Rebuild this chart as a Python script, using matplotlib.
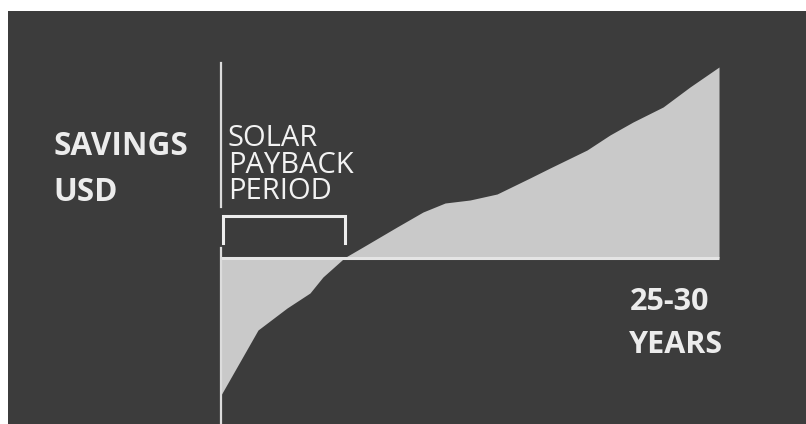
import matplotlib.pyplot as plt
import numpy as np

# savings curve (years, relative savings)
years = [0, 2.23, 3.98, 5.36, 6.14, 7.29, 7.41, 8.55, 10.6, 12.17, 13.5, 15.0,
         16.63, 18.61, 19.82, 22.05, 23.43, 24.82, 26.63, 28.25, 30.0]
savings = [-137, -72, -50, -35, -19, -2, 0, 11, 31, 46, 55, 58,
           64, 80, 90, 108, 123, 136, 151, 171, 191]
payback_year = 7.5

bg = '#3c3c3c'
fill_col = '#c9c9c9'
line_col = '#dcdcdc'
text_col = '#ececec'

plt.rcParams['font.family'] = ['Open Sans', 'DejaVu Sans']

fig = plt.figure(figsize=(8.06, 4.24), dpi=100, facecolor='white')
ax = fig.add_axes([8 / 806, 0, 798 / 806, 413 / 424])
ax.set_facecolor(bg)
ax.set_xlim(-12.83, 35.24)
ax.set_ylim(-166, 247)
for s in ax.spines.values():
    s.set_visible(False)
ax.set_xticks([])
ax.set_yticks([])

x = np.array(years)
y = np.array(savings)
ax.fill_between(x, y, 0, color=fill_col, linewidth=0, zorder=2)

# zero line
ax.plot([0, years[-1]], [0, 0], color='#e4e4e4', lw=2.2, zorder=3,
        solid_capstyle='butt')

# vertical axis (broken around the bracket)
ax.plot([0, 0], [195, 51], color=line_col, lw=1.6, zorder=3)
ax.plot([0, 0], [10, -166], color=line_col, lw=1.6, zorder=3)

# payback bracket
ax.plot([0.12, 0.12, payback_year, payback_year], [15, 42, 42, 15],
        color='#ededed', lw=2.2, zorder=4, solid_joinstyle='miter')

# labels
ax.text(-10.1, 103, 'SAVINGS', color=text_col, fontsize=22.7, fontweight='bold',
        va='baseline', ha='left')
ax.text(-10.1, 57, 'USD', color=text_col, fontsize=22.7, fontweight='bold',
        va='baseline', ha='left')

ax.text(0.42, 59, 'SOLAR\nPAYBACK\nPERIOD', color='#f2f2f2', fontsize=21,
        va='baseline', ha='left', linespacing=0.88)

ax.text(24.6, -52, '25-30', color=text_col, fontsize=22, fontweight='bold',
        va='baseline', ha='left')
ax.text(24.6, -95, 'YEARS', color=text_col, fontsize=22, fontweight='bold',
        va='baseline', ha='left')

fig.savefig('out.png', dpi=100, facecolor=fig.get_facecolor())
